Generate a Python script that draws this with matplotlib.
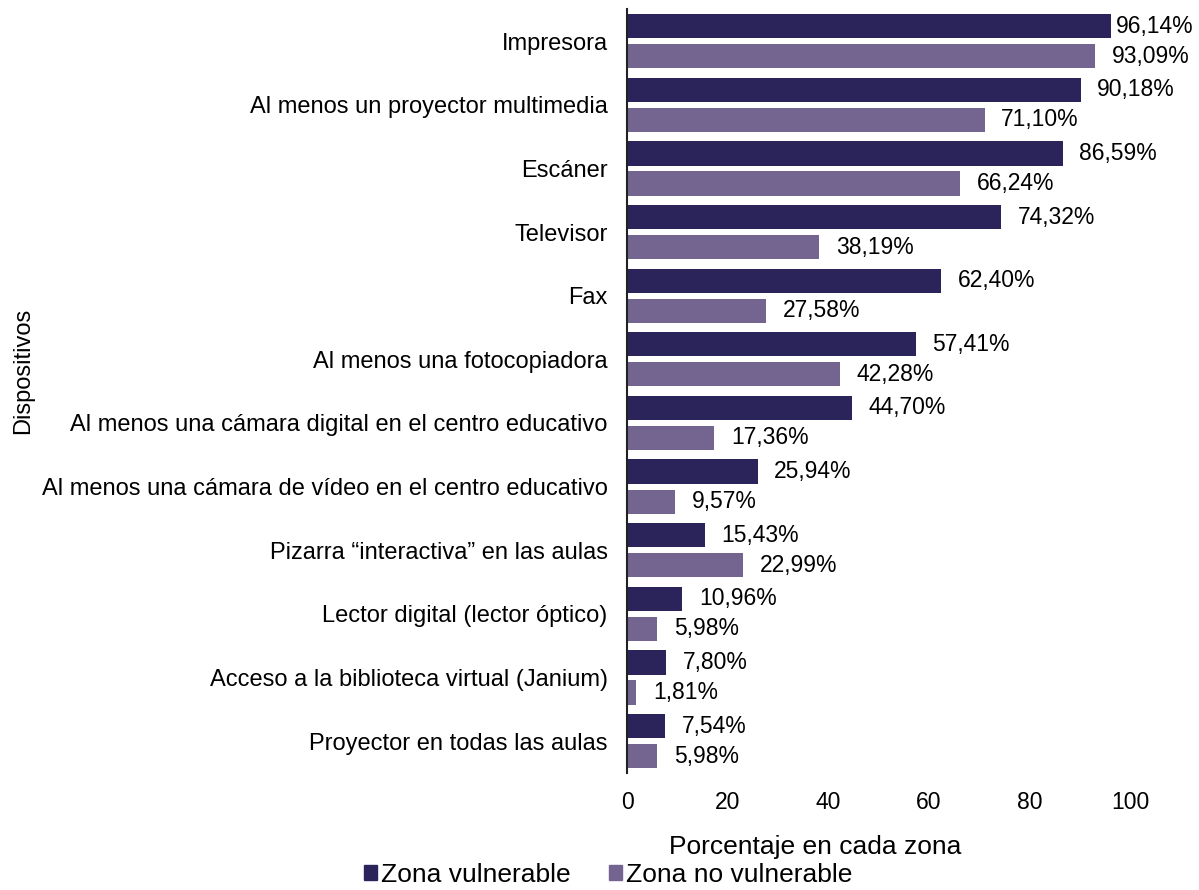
import numpy as np
import matplotlib.pyplot as plt
from matplotlib.patches import Patch

plt.rcParams['font.family'] = ['Liberation Sans', 'DejaVu Sans']

dispositivos = [
    'Impresora',
    'Al menos un proyector multimedia',
    'Escáner',
    'Televisor',
    'Fax',
    'Al menos una fotocopiadora',
    'Al menos una cámara digital en el centro educativo',
    'Al menos una cámara de vídeo en el centro educativo',
    'Pizarra “interactiva” en las aulas',
    'Lector digital (lector óptico)',
    'Acceso a la biblioteca virtual (Janium)',
    'Proyector en todas las aulas',
]
zona_vulnerable = [96.14, 90.18, 86.59, 74.32, 62.40, 57.41, 44.70, 25.94, 15.43, 10.96, 7.80, 7.54]
zona_no_vulnerable = [93.09, 71.10, 66.24, 38.19, 27.58, 42.28, 17.36, 9.57, 22.99, 5.98, 1.81, 5.98]

c_vul = '#2a245a'
c_novul = '#736590'

fig = plt.figure(figsize=(11.99, 8.9), dpi=100)
ax = fig.add_axes([0.523, 0.1315, 0.4195, 0.858])

y = np.arange(len(dispositivos))
h = 0.38
off = 0.236
ax.barh(y - off, zona_vulnerable, height=h, color=c_vul)
ax.barh(y + off, zona_no_vulnerable, height=h, color=c_novul)

fmt = lambda v: f'{v:.2f}'.replace('.', ',') + '%'
for vals, dy in [(zona_vulnerable, -off), (zona_no_vulnerable, off)]:
    for i, v in enumerate(vals):
        # labels near the right edge are pulled in so they stay inside the figure
        pad = 4 if v > 95 else 12
        ax.annotate(fmt(v), (v, i + dy), xytext=(pad, 0), textcoords='offset points',
                    va='center', ha='left', fontsize=16.5, annotation_clip=False)

ax.set_ylim(len(dispositivos) - 0.5, -0.5)
ax.set_yticks(y)
ax.set_yticklabels(dispositivos, fontsize=17)
ax.set_xlim(0, 100)
ax.set_xticks([0, 20, 40, 60, 80, 100])
ax.tick_params(axis='x', labelsize=16.5, length=0, pad=13)
ax.tick_params(axis='y', length=0, pad=14)

for s in ['top', 'right', 'bottom']:
    ax.spines[s].set_visible(False)
ax.spines['left'].set_color('#222222')
ax.spines['left'].set_linewidth(1.5)

fig.text(815 / 1199, 1 - 847 / 890, 'Porcentaje en cada zona', fontsize=19, ha='center', va='center')
fig.text(23 / 1199, 1 - 371 / 890, 'Dispositivos', rotation=90, fontsize=17, va='center', ha='center')

handles = [Patch(color=c_vul, label='Zona vulnerable'),
           Patch(color=c_novul, label='Zona no vulnerable')]
fig.legend(handles=handles, loc='center', bbox_to_anchor=(608 / 1199, 1 - 875 / 890), ncol=2,
           frameon=False, fontsize=19, handlelength=0.5, handleheight=0.5,
           handletextpad=0.15, columnspacing=1.45, borderpad=0, borderaxespad=0)

fig.savefig('out.png', dpi=100)
